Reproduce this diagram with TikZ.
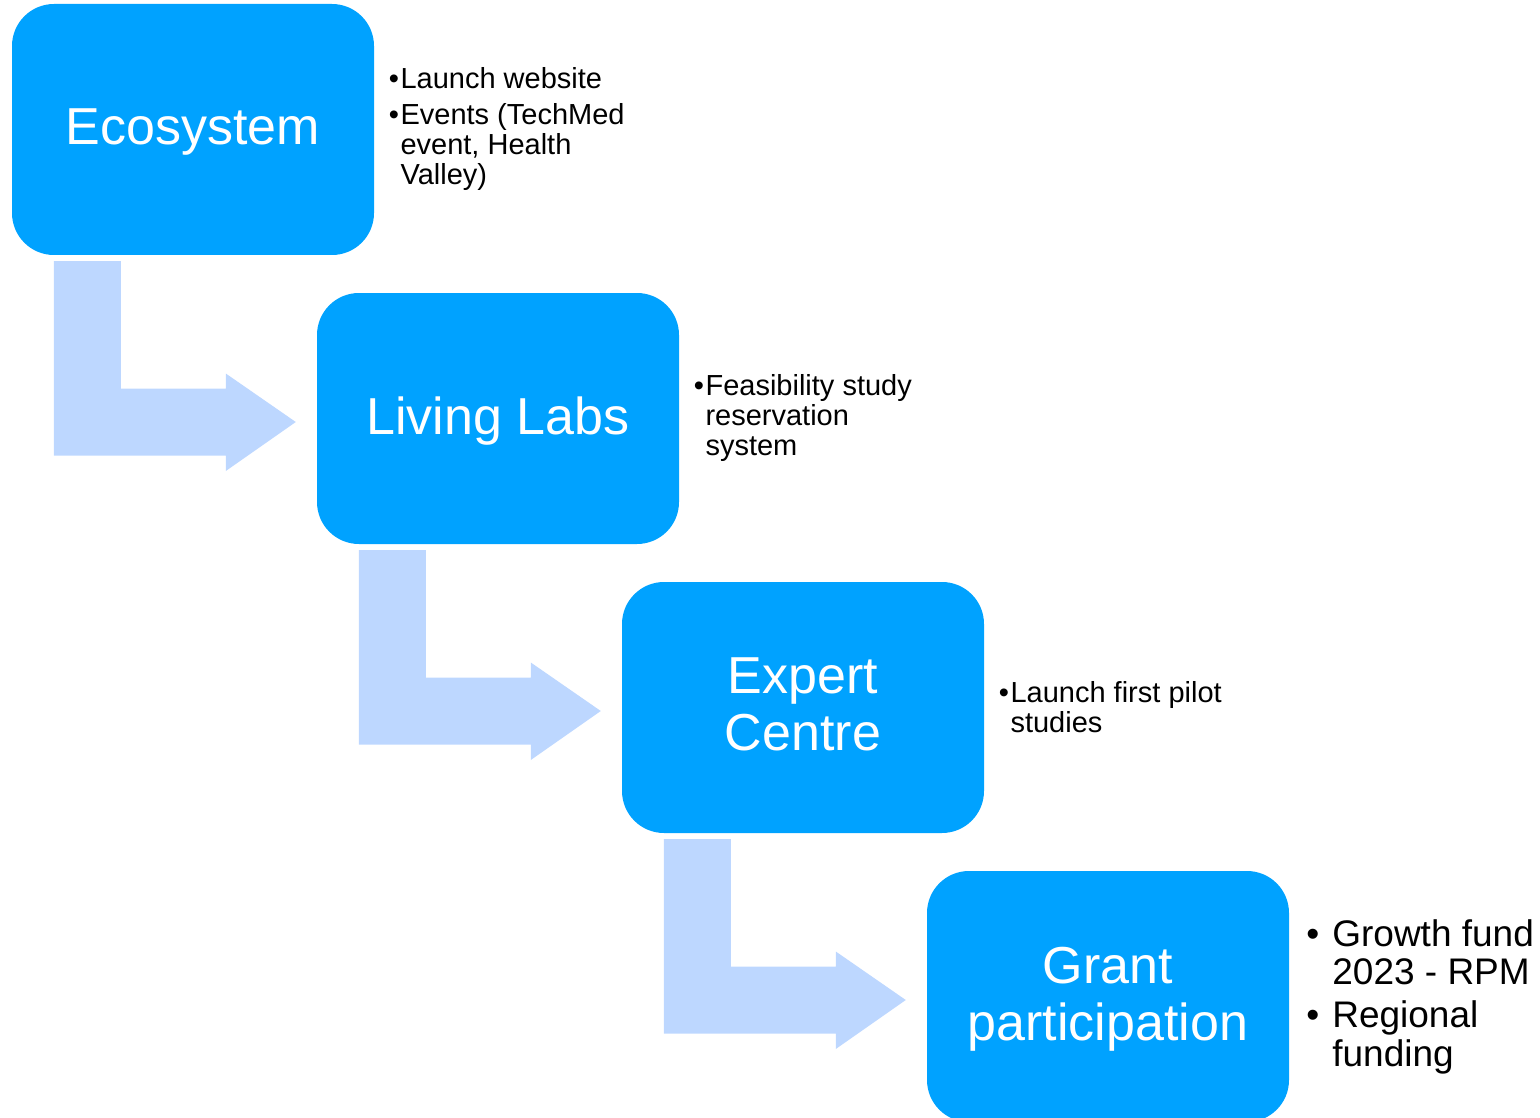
\documentclass[tikz,border=0pt]{standalone}
\usepackage{fontspec}
\setmainfont{Liberation Sans}
\usetikzlibrary{positioning}
\usetikzlibrary{calc}

\definecolor{stageblue}{RGB}{0,162,255}
\definecolor{bendblue}{RGB}{189,215,255}

\newcommand{\bul}{\textbullet\hspace{1.5pt}}
\newcommand{\bigbul}{\textbullet\hspace{13pt}}

\tikzset{
	stage/.style={fill=stageblue, text=white, rounded corners=42pt, minimum width=362pt, minimum height=251pt, inner sep=0pt, text depth=6pt, align=center, font=\fontsize{52}{57}\selectfont},
	notes/.style={inner sep=0pt, align=left, font=\fontsize{29}{30}\selectfont},
	bignotes/.style={inner sep=0pt, align=left, font=\fontsize{37}{38.5}\selectfont},
	bendarrow/.style={fill=bendblue},
}

\begin{document}
\begin{tikzpicture}[x=1pt,y=-1pt]
	\useasboundingbox (0,0) rectangle (1540,1118);
	
	%%% Ecosystem %%%
	
	\node[stage] (eco) at (193,129.5) {Ecosystem};
	\node[notes, right=14.5pt of eco] (ecotxt) {\bul Launch website\\[6pt]\bul Events (TechMed\\\hphantom{\bul}event, Health\\\hphantom{\bul}Valley)};
	
	%%% Living Labs %%%
	
	\node[stage] (lab) at ($(eco)+(305,289)$) {Living Labs};
	\node[notes, right=14.5pt of lab] (labtxt) {\bul Feasibility study\\\hphantom{\bul}reservation\\\hphantom{\bul}system};
	
	\coordinate (tip1) at ($(lab.west)+(-21,3.5)$);
	\fill[bendarrow] ($(eco.south west)+(42,6)$) coordinate (top1) -- ++(67,0) |- ($(tip1)+(-70,-33.5)$) -- ++(0,-15) -- (tip1) -- ($(tip1)+(-70,49)$) -- ++(0,-15.5) -| (top1) -- cycle;
	
	%%% Expert Centre %%%
	
	\node[stage] (exp) at ($(lab)+(305,289)$) {Expert\\Centre};
	\node[notes, right=14.5pt of exp] (exptxt) {\bul Launch first pilot\\\hphantom{\bul}studies};
	
	\coordinate (tip2) at ($(exp.west)+(-21,3.5)$);
	\fill[bendarrow] ($(lab.south west)+(42,6)$) coordinate (top2) -- ++(67,0) |- ($(tip2)+(-70,-33.5)$) -- ++(0,-15) -- (tip2) -- ($(tip2)+(-70,49)$) -- ++(0,-15.5) -| (top2) -- cycle;
	
	%%% Grant participation %%%
	
	\node[stage] (grant) at ($(exp)+(305,289)$) {Grant\\participation};
	\node[bignotes, right=17pt of grant] (granttxt) {\bigbul Growth fund\\\hphantom{\bigbul}2023 - RPM\\[4.5pt]\bigbul Regional\\\hphantom{\bigbul}funding};
	
	\coordinate (tip3) at ($(grant.west)+(-21,3.5)$);
	\fill[bendarrow] ($(exp.south west)+(42,6)$) coordinate (top3) -- ++(67,0) |- ($(tip3)+(-70,-33.5)$) -- ++(0,-15) -- (tip3) -- ($(tip3)+(-70,49)$) -- ++(0,-15.5) -| (top3) -- cycle;
	
\end{tikzpicture}
\end{document}
